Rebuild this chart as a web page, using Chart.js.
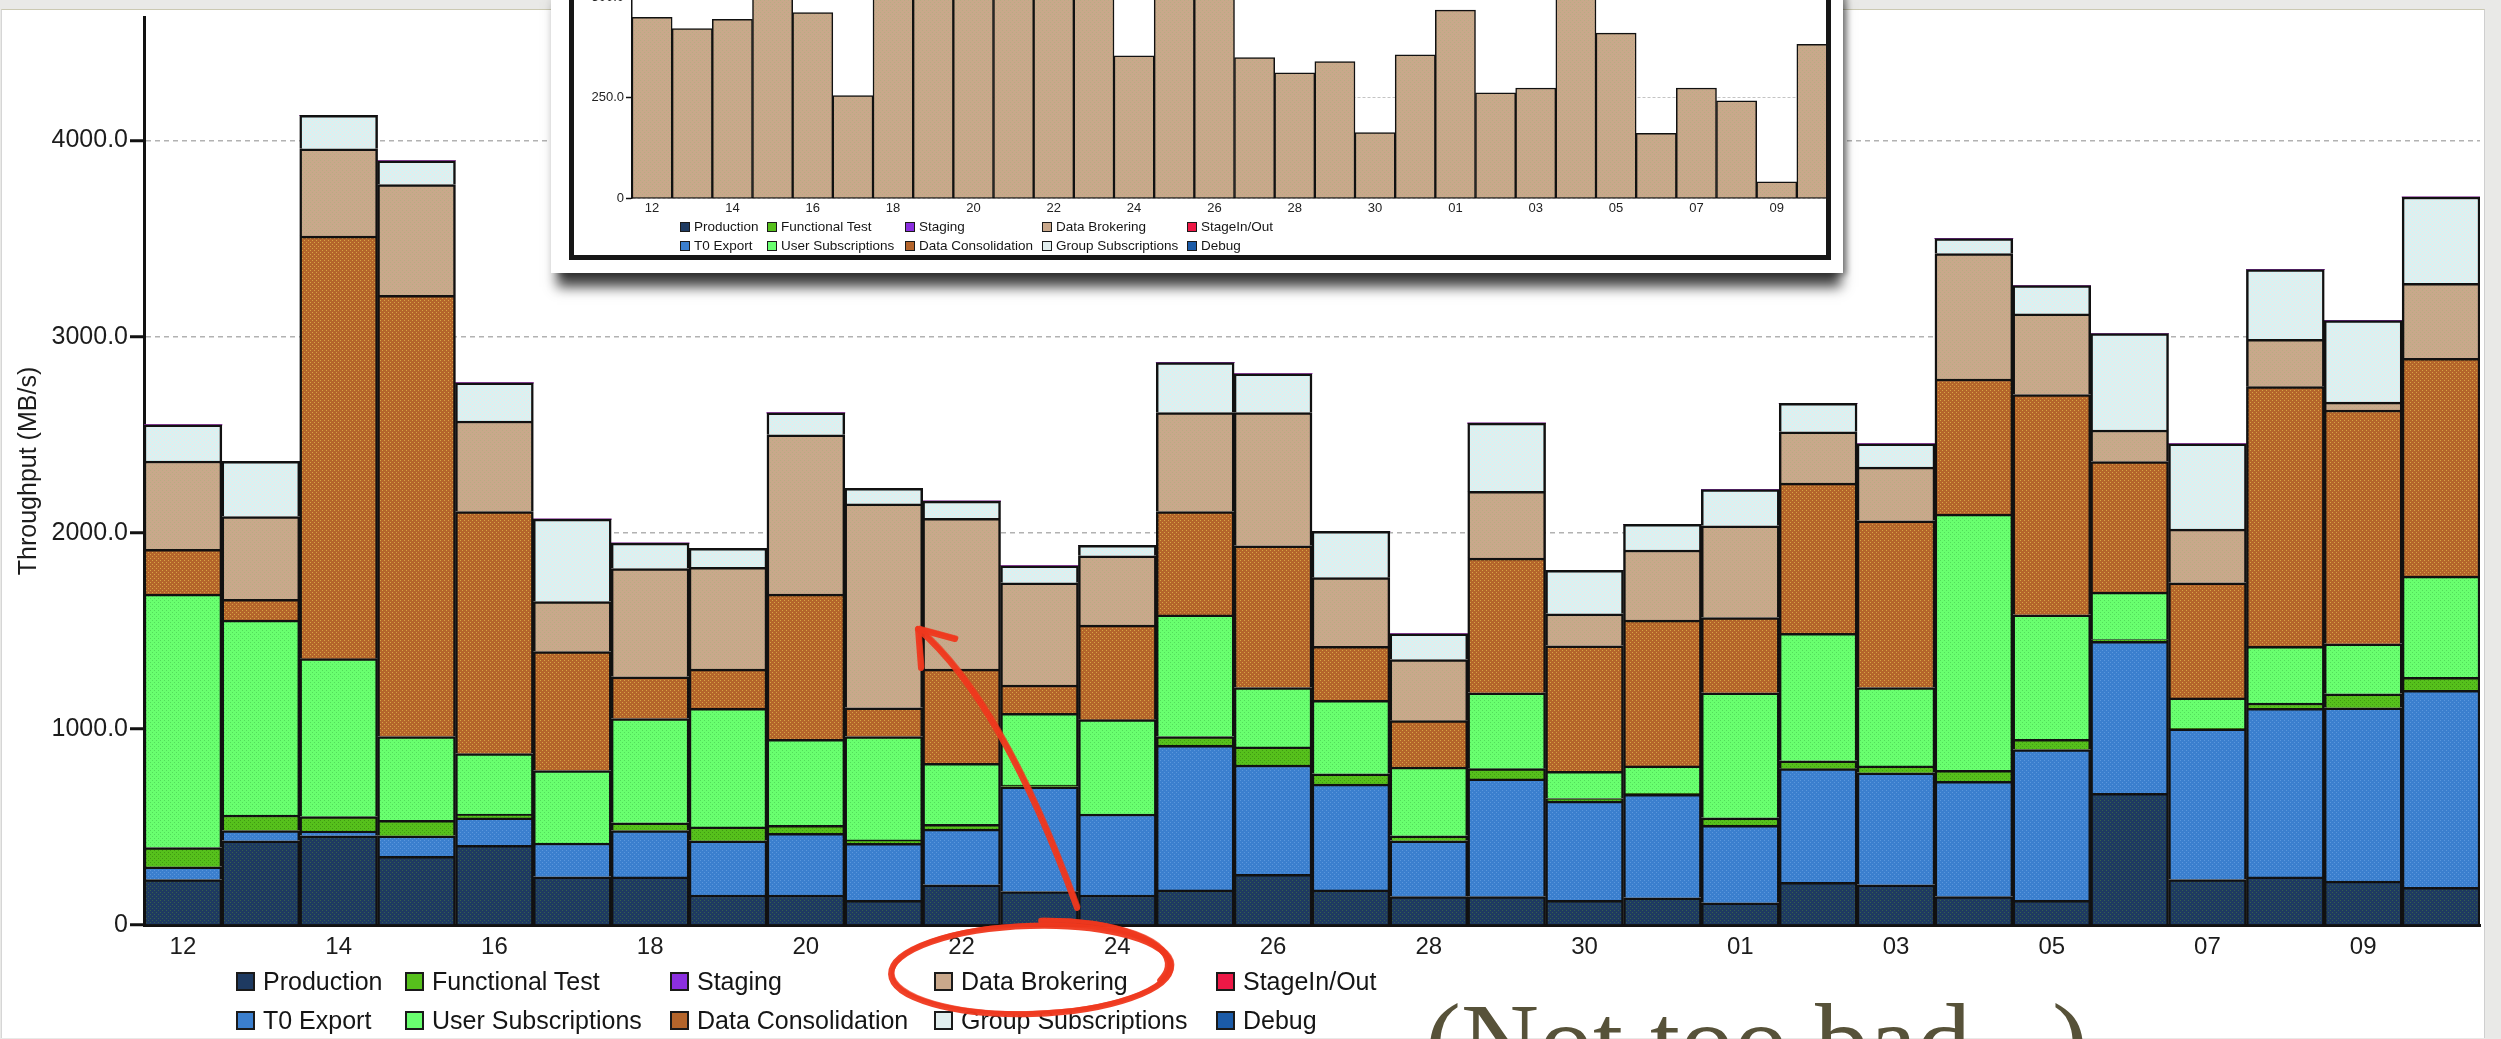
<!DOCTYPE html>
<html>
<head>
<meta charset="utf-8">
<title>Throughput</title>
<script src="https://cdn.jsdelivr.net/npm/chart.js@4.4.1/dist/chart.umd.min.js"></script>
<style>
html, body { margin: 0; padding: 0; }
body { position: relative; width: 2501px; height: 1039px; overflow: hidden; background: #e9e9e7; font-family: "Liberation Sans", Arial, sans-serif; }
#slide { position: absolute; left: 1px; top: 9px; width: 2482px; height: 1028px; background: #fff; border-top: 1px solid #cbc9b2; border-left: 1px solid #d6d6d6; border-right: 1px solid #cfcfcf; }
#mainChart { position: absolute; left: 0; top: 0; z-index: 1; }
#legend, #insetLegend { position: absolute; left: 0; top: 0; width: 0; height: 0; }
#legend { z-index: 2; }
#insetLegend { z-index: 5; }
.item { position: absolute; white-space: nowrap; color: #151515; }
.item i { position: absolute; left: 0; top: 0; box-sizing: border-box; border: 2px solid #1a1a1a; }
#note { position: absolute; left: 1425px; top: 988px; z-index: 2; font: 108px/1 "Liberation Serif", serif; color: #575239; white-space: nowrap; }
#card { position: absolute; left: 551px; top: -20px; width: 1292px; height: 293px; background: #fff; z-index: 3; box-shadow: 2px 18px 12px -4px rgba(0,0,0,0.75), 6px 4px 6px -2px rgba(0,0,0,0.35); }
#frame { position: absolute; left: 569px; top: -20px; width: 1262px; height: 280px; box-sizing: border-box; border: 5px solid #161616; overflow: hidden; z-index: 4; background: #fff; }
#insetChart { position: absolute; left: 0; top: -35px; }
#marks { position: absolute; left: 0; top: 0; z-index: 6; pointer-events: none; }
</style>
</head>
<body>
<div id="slide"></div>
<canvas id="mainChart" width="2501" height="1039"></canvas>
<div id="legend"></div>
<div id="note">(Not too bad...)</div>
<div id="card"></div>
<div id="frame"><canvas id="insetChart" width="1300" height="305"></canvas></div>
<div id="insetLegend"></div>
<canvas id="marks" width="2501" height="1039"></canvas>

<script>
// days on the x axis
const days = ['12','13','14','15','16','17','18','19','20','21','22','23','24','25','26','27','28','29','30','31',
              '01','02','03','04','05','06','07','08','09','10'];

// MB/s per activity
const production         = [232, 429, 455, 350, 406, 246, 245, 153, 153, 126, 205, 171, 153, 179, 258, 179, 145, 145, 126, 139, 113, 218, 205, 145, 126, 671, 232, 245, 224, 192];
const t0Export           = [65, 53, 24, 105, 140, 172, 237, 276, 315, 290, 284, 534, 413, 737, 558, 539, 284, 600, 506, 527, 395, 579, 571, 587, 769, 776, 768, 860, 884, 1005];
const functionalTest     = [98, 79, 74, 79, 20, 0, 39, 71, 40, 18, 24, 8, 0, 45, 92, 53, 26, 52, 13, 5, 39, 40, 35, 57, 52, 8, 3, 27, 71, 66];
const userSubscriptions  = [1292, 994, 805, 427, 308, 370, 532, 605, 439, 527, 311, 366, 481, 621, 303, 374, 350, 387, 139, 140, 637, 650, 400, 1306, 635, 242, 155, 289, 255, 516];
const dataConsolidation  = [229, 106, 2155, 2250, 1234, 606, 213, 200, 740, 147, 481, 145, 482, 526, 723, 276, 237, 687, 640, 744, 384, 766, 850, 689, 1123, 666, 587, 1324, 1192, 1110];
const dataBrokering      = [450, 422, 445, 565, 462, 255, 552, 519, 813, 1039, 769, 521, 354, 505, 679, 350, 312, 340, 163, 357, 468, 262, 274, 640, 411, 161, 274, 242, 40, 383];
const groupSubscriptions = [184, 281, 171, 121, 194, 421, 129, 97, 111, 79, 87, 87, 53, 255, 198, 237, 131, 348, 221, 131, 184, 145, 118, 76, 145, 492, 434, 355, 416, 440];
const staging            = [0,0,0,0,0,0,0,0,0,0,0,0,0,0,0,0,0,0,0,0,0,0,0,0,0,0,0,0,0,0];
const stageInOut         = [0,0,0,0,0,0,0,0,0,0,0,0,0,0,0,0,0,0,0,0,0,0,0,0,0,0,0,0,0,0];
const debug              = [0,0,0,0,0,0,0,0,0,0,0,0,0,0,0,0,0,0,0,0,0,0,0,0,0,0,0,0,0,0];

// y tick values
const mainTicks  = [0, 1000, 2000, 3000, 4000];
const insetTicks = [0, 250, 500];

// bottom to top
const stackOrder = [
    ['Production', production],
    ['T0 Export', t0Export],
    ['Functional Test', functionalTest],
    ['User Subscriptions', userSubscriptions],
    ['Data Consolidation', dataConsolidation],
    ['Data Brokering', dataBrokering],
    ['Group Subscriptions', groupSubscriptions],
    ['Staging', staging],
    ['StageIn/Out', stageInOut],
    ['Debug', debug]
];

// legend reads row by row
const legendRows = [
    ['Production', 'Functional Test', 'Staging', 'Data Brokering', 'StageIn/Out'],
    ['T0 Export', 'User Subscriptions', 'Data Consolidation', 'Group Subscriptions', 'Debug']
];

// [fill, dot]
const colors = {
    'Production':          ['#1e3a61', '#35604f'],
    'T0 Export':           ['#3b7fce', '#5a97dc'],
    'Functional Test':     ['#56c01c', '#3f9a12'],
    'User Subscriptions':  ['#69ff6f', '#52dd5a'],
    'Data Consolidation':  ['#b4652b', '#d6a444'],
    'Data Brokering':      ['#c9a88b', '#b7ad82'],
    'Group Subscriptions': ['#e1eeee', '#c6fbfb'],
    'Staging':             ['#8b2fe0', '#8b2fe0'],
    'StageIn/Out':         ['#ee1846', '#ee1846'],
    'Debug':               ['#1b5ba8', '#1b5ba8']
};

Chart.defaults.font.family = '"Liberation Sans", Arial, sans-serif';

function texture(base, dot) {
    const c = document.createElement('canvas');
    c.width = 4; c.height = 4;
    const g = c.getContext('2d');
    g.fillStyle = base; g.fillRect(0, 0, 4, 4);
    g.fillStyle = dot; g.fillRect(0, 0, 1, 1); g.fillRect(2, 2, 1, 1);
    return g.createPattern(c, 'repeat');
}

const yLabel = v => v === 0 ? '0' : v.toFixed(1);
const evenDay = (v, i) => i % 2 === 0 ? days[i] : '';

// main stacked chart
let datasets = stackOrder.map(([label, values]) => ({
    label: label,
    data: values,
    backgroundColor: texture(colors[label][0], colors[label][1]),
    borderColor: '#111',
    borderWidth: values.some(v => v > 0) ? 2.5 : 0,
    barPercentage: 1,
    categoryPercentage: 1
}));

let mainChart = new Chart(document.getElementById('mainChart'), {
    type: 'bar',
    data: { labels: days, datasets: datasets },
    options: {
        responsive: false,
        animation: false,
        events: [],
        layout: { padding: { left: 0, top: 16, right: 21, bottom: 0 } },
        plugins: { legend: { display: false }, tooltip: { enabled: false } },
        scales: {
            x: {
                stacked: true,
                grid: { display: false, drawTicks: false },
                border: { color: '#111', width: 3 },
                ticks: { autoSkip: false, maxRotation: 0, padding: 8, color: '#1c1c1c', font: { size: 24 }, callback: evenDay },
                afterFit: s => { s.height = 114; }
            },
            y: {
                stacked: true,
                min: 0,
                max: 4630,
                border: { color: '#111', width: 3, dash: [5, 4] },
                grid: { color: '#b2b2b2', lineWidth: 1.5, tickLength: 14, tickColor: '#111', tickWidth: 3, tickBorderDash: [] },
                ticks: { padding: 2, color: '#1c1c1c', font: { size: 25 }, callback: yLabel },
                afterBuildTicks: s => { s.ticks = mainTicks.map(v => ({ value: v })); },
                title: { display: true, text: 'Throughput (MB/s)', color: '#1c1c1c', font: { size: 25 }, padding: { top: 14, bottom: 0 } },
                afterFit: s => { s.width = 144; }
            }
        }
    }
});

// the small picture pasted on top: data brokering only
let insetChart = new Chart(document.getElementById('insetChart'), {
    type: 'bar',
    data: {
        labels: days,
        datasets: [{
            label: 'Data Brokering',
            data: dataBrokering,
            backgroundColor: texture(colors['Data Brokering'][0], colors['Data Brokering'][1]),
            borderColor: '#111',
            borderWidth: 1.5,
            barPercentage: 1,
            categoryPercentage: 1
        }]
    },
    options: {
        responsive: false,
        animation: false,
        events: [],
        layout: { padding: { left: 0, top: 10, right: 37, bottom: 0 } },
        plugins: { legend: { display: false }, tooltip: { enabled: false } },
        scales: {
            x: {
                grid: { display: false, drawTicks: false },
                border: { color: '#111', width: 1.5 },
                ticks: { autoSkip: false, maxRotation: 0, padding: 3, color: '#222', font: { size: 13 }, callback: evenDay },
                afterFit: s => { s.height = 57; }
            },
            y: {
                min: 0,
                max: 593,
                border: { color: '#111', width: 1.5, dash: [3, 2] },
                grid: { color: '#c4c4c4', lineWidth: 1, tickLength: 6, tickColor: '#111', tickWidth: 1.5, tickBorderDash: [] },
                ticks: { padding: 2, color: '#222', font: { size: 13 }, callback: yLabel },
                afterBuildTicks: s => { s.ticks = insetTicks.map(v => ({ value: v })); },
                afterFit: s => { s.width = 58; }
            }
        }
    }
});

function buildLegend(el, colX, rowY, box, fontSize, textGap) {
    legendRows.forEach((row, r) => {
        row.forEach((label, c) => {
            const ds = mainChart.data.datasets.find(d => d.label === label);
            const item = document.createElement('div');
            item.className = 'item';
            item.style.left = colX[c] + 'px';
            item.style.top = rowY[r] + 'px';
            item.style.height = box + 'px';
            item.style.lineHeight = box + 'px';
            item.style.fontSize = fontSize + 'px';
            item.style.paddingLeft = textGap + 'px';
            const sw = document.createElement('i');
            sw.style.width = box + 'px';
            sw.style.height = box + 'px';
            sw.style.background = colors[label][0];
            if (box < 14) sw.style.borderWidth = '1px';
            item.appendChild(sw);
            item.appendChild(document.createTextNode(ds.label));
            el.appendChild(item);
        });
    });
}

buildLegend(document.getElementById('legend'), [236, 405, 670, 934, 1216], [972, 1011], 19, 25, 27);
buildLegend(document.getElementById('insetLegend'), [680, 767, 905, 1042, 1187], [222, 241], 10, 13.5, 14);

// red pen marks
const pen = document.getElementById('marks').getContext('2d');
pen.strokeStyle = '#ef381d';
pen.lineCap = 'round';
pen.lineJoin = 'round';

function penPass(dx, dy, width, alpha) {
    pen.save();
    pen.globalAlpha = alpha;
    pen.lineWidth = width;
    pen.translate(dx, dy);
    // arrow
    pen.beginPath();
    pen.moveTo(1077, 908);
    pen.quadraticCurveTo(1002, 701, 918, 629);
    pen.stroke();
    pen.beginPath();
    pen.moveTo(955, 639);
    pen.lineTo(918, 629);
    pen.lineTo(921, 668);
    pen.stroke();
    // ellipse round the legend entry
    pen.beginPath();
    pen.ellipse(1031, 970, 140, 44, -0.03, 0, Math.PI * 2);
    pen.stroke();
    pen.beginPath();
    pen.ellipse(1033, 968, 135, 47, -0.03, -1.5, 0.35);
    pen.stroke();
    pen.restore();
}
penPass(0, 0, 6, 0.95);
penPass(1.5, -1.2, 4, 0.75);
</script>
</body>
</html>
